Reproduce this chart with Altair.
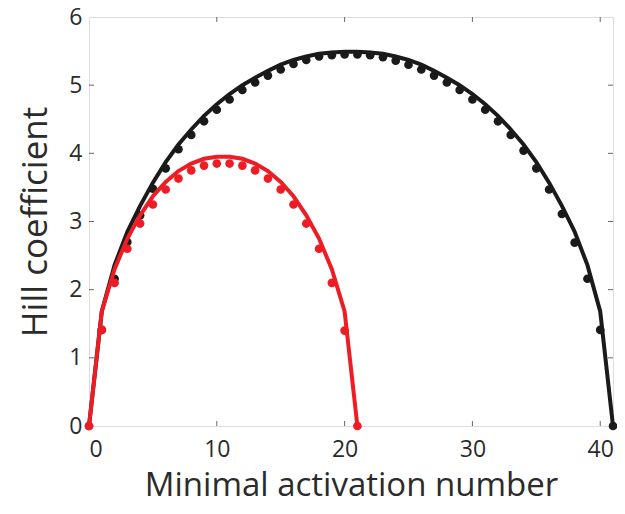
import altair as alt
import pandas as pd

n_black = list(range(0, 42))
black_dots = [0, 1.41, 2.16, 2.70, 3.09, 3.48, 3.78, 4.06, 4.27, 4.47, 4.64, 4.79, 4.93, 5.04,
              5.14, 5.23, 5.31, 5.37, 5.42, 5.44, 5.45, 5.45, 5.44, 5.41, 5.36, 5.30, 5.23, 5.14,
              5.04, 4.93, 4.79, 4.64, 4.47, 4.27, 4.04, 3.78, 3.47, 3.11, 2.69, 2.16, 1.41, 0]
black_fit = [0, 1.68, 2.36, 2.85, 3.23, 3.57, 3.87, 4.13, 4.35, 4.55, 4.72, 4.87, 5.00, 5.11,
             5.21, 5.30, 5.37, 5.42, 5.46, 5.48, 5.49, 5.49, 5.48, 5.46, 5.42, 5.37, 5.30, 5.21,
             5.11, 5.00, 4.87, 4.72, 4.55, 4.35, 4.13, 3.87, 3.57, 3.23, 2.85, 2.36, 1.68, 0]

n_red = list(range(0, 22))
red_dots = [0, 1.41, 2.10, 2.60, 2.97, 3.25, 3.47, 3.63, 3.75, 3.82, 3.85, 3.85, 3.82, 3.75,
            3.63, 3.47, 3.25, 2.97, 2.60, 2.10, 1.40, 0]
red_fit = [0, 1.68, 2.30, 2.75, 3.09, 3.37, 3.58, 3.74, 3.85, 3.92, 3.95, 3.95, 3.92, 3.85,
           3.74, 3.58, 3.37, 3.09, 2.75, 2.30, 1.68, 0]

x_ticks = [0, 10, 20, 30, 40]
x_inner_ticks = [10, 20, 30, 40]
y_ticks = [0, 1, 2, 3, 4, 5, 6]
y_inner_ticks = [1, 2, 3, 4, 5]

BLACK = "#1a1a1a"
RED = "#ee1c24"
TEXT = "#2b2b2b"
W, H = 524, 409
FONT = "Open Sans"

black_df = pd.DataFrame({"n": n_black, "dots": black_dots, "fit": black_fit})
red_df = pd.DataFrame({"n": n_red, "dots": red_dots, "fit": red_fit})
xt_df = pd.DataFrame({"t": x_inner_ticks})
yt_df = pd.DataFrame({"t": y_inner_ticks})

xscale = alt.Scale(domain=[0, 41], nice=False, zero=False)
yscale = alt.Scale(domain=[0, 6], nice=False)

xaxis = alt.Axis(values=x_ticks, format="d", title="Minimal activation number", domain=False,
                 ticks=False, grid=False, labelFontSize=23, titleFontSize=33, labelFont=FONT,
                 titleFont=FONT, labelColor=TEXT, titleColor=TEXT, titleFontWeight="normal",
                 labelPadding=12, titlePadding=8)
yaxis = alt.Axis(values=y_ticks, format="d", title="Hill coefficient", domain=False,
                 ticks=False, grid=False, labelFontSize=23, titleFontSize=35, labelFont=FONT,
                 titleFont=FONT, labelColor=TEXT, titleColor=TEXT, titleFontWeight="normal",
                 labelPadding=7, titlePadding=15)

def dots(df, color):
    return alt.Chart(df).mark_circle(size=75, opacity=1, color=color, clip=False).encode(
        x=alt.X("n:Q", scale=xscale, axis=xaxis),
        y=alt.Y("dots:Q", scale=yscale, axis=yaxis),
    )

def fit(df, color):
    return alt.Chart(df).mark_line(color=color, strokeWidth=4, clip=False).encode(
        x=alt.X("n:Q", scale=xscale),
        y=alt.Y("fit:Q", scale=yscale),
    )

tick_style = dict(color="#666666", strokeWidth=1)
bottom_ticks = alt.Chart(xt_df).mark_rule(**tick_style).encode(
    x=alt.X("t:Q", scale=xscale), y=alt.value(H), y2=alt.value(H - 5))
top_ticks = alt.Chart(xt_df).mark_rule(**tick_style).encode(
    x=alt.X("t:Q", scale=xscale), y=alt.value(0), y2=alt.value(5))
left_ticks = alt.Chart(yt_df).mark_rule(**tick_style).encode(
    y=alt.Y("t:Q", scale=yscale), x=alt.value(0), x2=alt.value(5))
right_ticks = alt.Chart(yt_df).mark_rule(**tick_style).encode(
    y=alt.Y("t:Q", scale=yscale), x=alt.value(W), x2=alt.value(W - 5))

chart = alt.layer(
    bottom_ticks, top_ticks, left_ticks, right_ticks,
    dots(black_df, BLACK), fit(black_df, BLACK),
    dots(red_df, RED), fit(red_df, RED),
).properties(
    width=W, height=H,
    padding={"left": 81, "top": 9, "right": 4, "bottom": 80},
    autosize=alt.AutoSizeParams(type="none"),
).configure_view(stroke="#666666", strokeWidth=1).configure(background="white")

chart.save("out.html", embed_options={"renderer": "svg", "actions": False})
